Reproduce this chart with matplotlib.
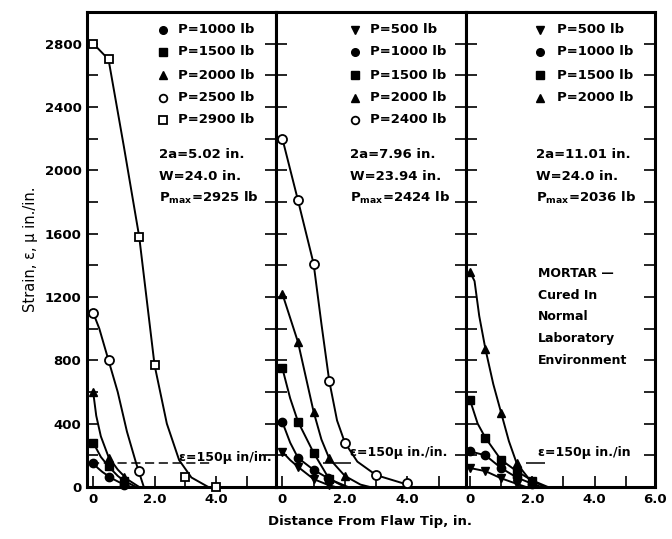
import matplotlib.pyplot as plt
import numpy as np

plt.rcParams['font.family'] = 'DejaVu Sans'
plt.rcParams['font.weight'] = 'bold'

# ---- panel 1: 2a = 5.02 in. ----
a1_1000_x = [0, 0.5, 1.0]
a1_1000_y = [150, 60, 15]
a1_1000_cx = [0, 0.15, 0.3, 0.6, 1.0, 1.25]
a1_1000_cy = [150, 120, 95, 55, 15, 0]

a1_1500_x = [0, 0.5, 1.0]
a1_1500_y = [280, 130, 40]
a1_1500_cx = [0, 0.25, 0.5, 0.8, 1.0, 1.4]
a1_1500_cy = [280, 190, 130, 70, 40, 0]

a1_2000_x = [0, 0.5, 1.0]
a1_2000_y = [600, 180, 60]
a1_2000_cx = [0, 0.1, 0.25, 0.5, 0.8, 1.1, 1.5]
a1_2000_cy = [600, 450, 320, 190, 110, 50, 0]

a1_2500_x = [0, 0.5, 1.5]
a1_2500_y = [1100, 800, 100]
a1_2500_cx = [0, 0.2, 0.5, 0.8, 1.1, 1.4, 1.65]
a1_2500_cy = [1100, 1000, 800, 600, 350, 150, 0]

a1_2900_x = [0, 0.5, 1.5, 2.0, 3.0, 4.0]
a1_2900_y = [2800, 2700, 1580, 770, 60, 0]
a1_2900_cx = [0, 0.5, 1.0, 1.5, 2.0, 2.4, 2.8, 3.2, 3.75]
a1_2900_cy = [2800, 2700, 2150, 1580, 770, 400, 170, 60, 0]

# ---- panel 2: 2a = 7.96 in. ----
a2_500_x = [0, 0.5, 1.0, 1.5]
a2_500_y = [222, 127, 50, 10]
a2_500_cx = [0, 0.25, 0.5, 1.0, 1.5, 1.7]
a2_500_cy = [222, 170, 127, 50, 10, 0]

a2_1000_x = [0, 0.5, 1.0, 1.45]
a2_1000_y = [410, 184, 108, 57]
a2_1000_cx = [0, 0.25, 0.5, 1.0, 1.45, 2.0]
a2_1000_cy = [410, 280, 184, 108, 57, 0]

a2_1500_x = [0, 0.5, 1.0, 1.5]
a2_1500_y = [750, 413, 216, 50]
a2_1500_cx = [0, 0.25, 0.5, 1.0, 1.5, 2.1]
a2_1500_cy = [750, 560, 413, 216, 50, 0]

a2_2000_x = [0, 0.5, 1.0, 1.5, 2.0]
a2_2000_y = [1220, 915, 475, 180, 70]
a2_2000_cx = [0, 0.5, 1.0, 1.25, 1.5, 2.0, 2.5, 2.8]
a2_2000_cy = [1220, 915, 475, 300, 180, 70, 15, 0]

a2_2400_x = [0, 0.5, 1.0, 1.5, 2.0, 3.0, 4.0]
a2_2400_y = [2200, 1810, 1410, 670, 280, 75, 25]
a2_2400_cx = [0, 0.5, 1.0, 1.25, 1.5, 1.75, 2.0, 2.4, 3.0, 4.0]
a2_2400_cy = [2200, 1810, 1410, 1030, 670, 420, 280, 160, 75, 15]

# ---- panel 3: 2a = 11.01 in. ----
a3_500_x = [0, 0.5, 1.0, 1.5]
a3_500_y = [120, 100, 55, 20]
a3_500_cx = [0, 0.5, 1.0, 1.5, 1.8]
a3_500_cy = [120, 100, 55, 20, 0]

a3_1000_x = [0, 0.5, 1.0, 1.5, 2.0]
a3_1000_y = [225, 200, 120, 60, 20]
a3_1000_cx = [0, 0.5, 1.0, 1.5, 2.0, 2.3]
a3_1000_cy = [225, 200, 120, 60, 20, 0]

a3_1500_x = [0, 0.5, 1.0, 1.5, 2.0]
a3_1500_y = [552, 310, 171, 100, 40]
a3_1500_cx = [0, 0.25, 0.5, 1.0, 1.5, 2.0, 2.4]
a3_1500_cy = [552, 400, 310, 171, 100, 40, 0]

a3_2000_x = [0, 0.5, 1.0, 1.5]
a3_2000_y = [1360, 870, 470, 150]
a3_2000_cx = [0, 0.15, 0.3, 0.5, 0.75, 1.0, 1.25, 1.5, 1.9, 2.5]
a3_2000_cy = [1360, 1300, 1080, 870, 650, 470, 290, 150, 50, 0]

p1_labels = ["P=1000 lb", "P=1500 lb", "P=2000 lb", "P=2500 lb", "P=2900 lb"]
p2_labels = ["P=500 lb", "P=1000 lb", "P=1500 lb", "P=2000 lb", "P=2400 lb"]
p3_labels = ["P=500 lb", "P=1000 lb", "P=1500 lb", "P=2000 lb"]

p1_info = ["2a=5.02 in.", "W=24.0 in.", r"P$_{\mathregular{max}}$=2925 lb"]
p2_info = ["2a=7.96 in.", "W=23.94 in.", r"P$_{\mathregular{max}}$=2424 lb"]
p3_info = ["2a=11.01 in.", "W=24.0 in.", r"P$_{\mathregular{max}}$=2036 lb"]
p3_note = ["MORTAR \u2014", "Cured In", "Normal", "Laboratory", "Environment"]

y_ticks = np.arange(0, 3001, 200)
y_labels = [str(v) if v % 400 == 0 else "" for v in y_ticks]

filled = dict(color="k", mfc="k", mec="k")
openm = dict(color="k", mfc="white", mec="k", mew=1.3)
sty = {
    "500": dict(marker="v", ms=6, **filled),
    "1000": dict(marker="o", ms=6, **filled),
    "1500": dict(marker="s", ms=5.5, **filled),
    "2000": dict(marker="^", ms=6, **filled),
    "o_open": dict(marker="o", ms=6.5, **openm),
    "s_open": dict(marker="s", ms=6, **openm),
}

fig, axes = plt.subplots(1, 3, figsize=(6.72, 5.39), dpi=100, sharey=False)
fig.subplots_adjust(left=0.1295, right=0.975, bottom=0.0965, top=0.978, wspace=0)

panels = [
    [(a1_1000_x, a1_1000_y, a1_1000_cx, a1_1000_cy, "1000"),
     (a1_1500_x, a1_1500_y, a1_1500_cx, a1_1500_cy, "1500"),
     (a1_2000_x, a1_2000_y, a1_2000_cx, a1_2000_cy, "2000"),
     (a1_2500_x, a1_2500_y, a1_2500_cx, a1_2500_cy, "o_open"),
     (a1_2900_x, a1_2900_y, a1_2900_cx, a1_2900_cy, "s_open")],
    [(a2_500_x, a2_500_y, a2_500_cx, a2_500_cy, "500"),
     (a2_1000_x, a2_1000_y, a2_1000_cx, a2_1000_cy, "1000"),
     (a2_1500_x, a2_1500_y, a2_1500_cx, a2_1500_cy, "1500"),
     (a2_2000_x, a2_2000_y, a2_2000_cx, a2_2000_cy, "2000"),
     (a2_2400_x, a2_2400_y, a2_2400_cx, a2_2400_cy, "o_open")],
    [(a3_500_x, a3_500_y, a3_500_cx, a3_500_cy, "500"),
     (a3_1000_x, a3_1000_y, a3_1000_cx, a3_1000_cy, "1000"),
     (a3_1500_x, a3_1500_y, a3_1500_cx, a3_1500_cy, "1500"),
     (a3_2000_x, a3_2000_y, a3_2000_cx, a3_2000_cy, "2000")],
]
labels = [p1_labels, p2_labels, p3_labels]
infos = [p1_info, p2_info, p3_info]
xlims = [(-0.2, 5.97), (-0.19, 5.87), (-0.13, 5.94)]
leg_x = [(0.40, 0.48), (0.415, 0.495), (0.39, 0.48)]
info_x = [0.38, 0.39, 0.37]
eps_x = [0.484, 0.39, 0.38]
eps_y = [0.063, 0.072, 0.072]
eps_line = [(-0.1, 3.8), (1.3, 2.2), (1.8, 2.4)]
eps_text = ["\u03b5=150\u03bc in/in.", "\u03b5=150\u03bc in./in.", "\u03b5=150\u03bc in./in"]
row_y = [0.962, 0.916, 0.867, 0.819, 0.773]
info_y = [0.699, 0.653, 0.608]
fs = 9.5

for i, ax in enumerate(axes):
    for mx, my, cx, cy, key in panels[i]:
        ax.plot(cx, cy, "-", color="k", lw=1.4, clip_on=False, zorder=2)
        ax.plot(mx, my, ls="none", clip_on=False, zorder=3, **sty[key])
    keys = [s[4] for s in panels[i]]
    for j, (k, lab) in enumerate(zip(keys, labels[i])):
        ax.plot([leg_x[i][0]], [row_y[j]], transform=ax.transAxes, ls="none",
                **dict(sty[k], ms=5.5))
        ax.text(leg_x[i][1], row_y[j], lab, transform=ax.transAxes,
                fontsize=fs, va="center", ha="left")
    for j, t in enumerate(infos[i]):
        ax.text(info_x[i], info_y[j], t, transform=ax.transAxes,
                fontsize=fs, va="center", ha="left")
    ax.hlines(150, eps_line[i][0], eps_line[i][1], colors="k", lw=1.1,
              linestyles=(0, (6, 3)) if i == 0 else "-")
    ax.text(eps_x[i], eps_y[i], eps_text[i], transform=ax.transAxes,
            fontsize=fs - 0.5, va="center", ha="left")

    ax.set_ylim(0, 3000)
    ax.set_yticks(y_ticks)
    ax.set_yticklabels(y_labels if i == 0 else [""] * len(y_ticks))
    ax.set_xlim(*xlims[i])
    if i < 2:
        ax.set_xticks([0, 1, 2, 3, 4, 5])
        ax.set_xticklabels(["0", "", "2.0", "", "4.0", ""])
    else:
        ax.set_xticks([0, 1, 2, 3, 4, 5, xlims[2][1]])
        ax.set_xticklabels(["0", "", "2.0", "", "4.0", "", "6.0"])
    ax.tick_params(direction="in", length=8, width=1.2, left=True, right=True,
                   labelsize=fs, pad=4)
    for sp in ax.spines.values():
        sp.set_linewidth(2.2)

for k, t in enumerate(p3_note):
    axes[2].text(0.38, [0.45, 0.404, 0.358, 0.312, 0.267][k], t,
                 transform=axes[2].transAxes, fontsize=fs - 0.5, va="center", ha="left")

axes[0].set_ylabel("Strain, \u03b5, \u03bc in./in.", fontsize=10.5, fontweight="normal",
                   labelpad=5)
fig.text(0.55, 0.032, "Distance From Flaw Tip, in.", ha="center", va="center", fontsize=fs)

plt.savefig("out.png", dpi=100)
